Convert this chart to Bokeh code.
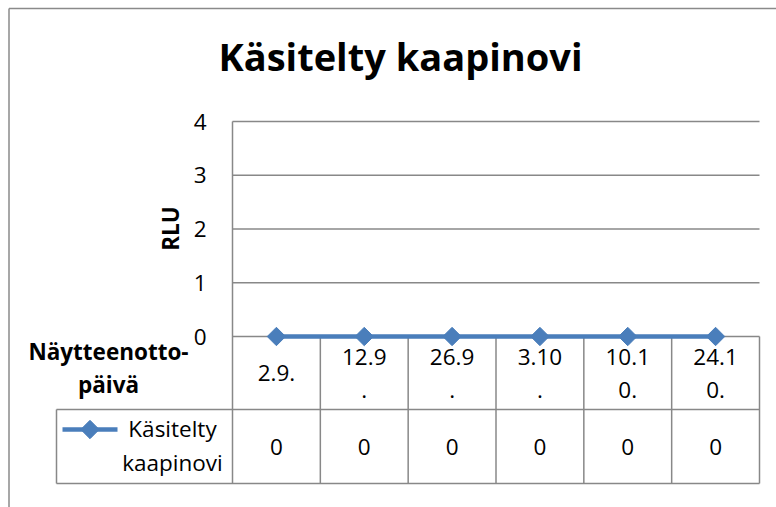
import math
from bokeh.plotting import figure
from bokeh.models import Range1d
from bokeh.core.properties import value
from bokeh.embed import file_html
from bokeh.resources import INLINE

# ---- data ----
chart_title = "Käsitelty kaapinovi"
series_name = ["Käsitelty", "kaapinovi"]
categories = ["2.9.", "12.9.", "26.9.", "3.10.", "10.10.", "24.10."]
values = [0, 0, 0, 0, 0, 0]
y_ticks = [0, 1, 2, 3, 4]
y_label = "RLU"
x_label = ["Näytteenotto-", "päivä"]

# ---- layout (page pixels) ----
W, H = 776, 507
OX, OY = 0, 0
PL, PR = 232, 759      # plot area left / right
PT, P0 = 121, 336      # top tick / zero line
ROW1, ROW2 = 409, 483  # table row bottoms
LEG_L = 56

n = len(categories)
cw = (PR - PL) / n
ymax = max(y_ticks)
ppu = (P0 - PT) / ymax

def X(px):
    return (px - PL) / cw

def Y(py):
    return (P0 - py) / ppu

FONT = value("Open Sans")
GRID = "#888888"
BLUE = "#4A7EBB"
FS = "22.5px"
LW = 1.5

p = figure(width=W, height=H, output_backend="svg", toolbar_location=None,
           x_range=Range1d(X(OX), X(OX + W)), y_range=Range1d(Y(OY + H), Y(OY)),
           x_axis_location=None, y_axis_location=None, min_border=0)
p.grid.visible = False
p.outline_line_color = None
p.background_fill_color = "white"
p.border_fill_color = "white"

# chart border (left and top)
p.segment(x0=[X(8.5), X(8.5)], y0=[Y(8), Y(8)], x1=[X(8.5), X(800)], y1=[Y(600), Y(8)],
          line_color="#8a8a8a", line_width=1.5)

# horizontal gridlines
p.segment(x0=[0] * len(y_ticks), x1=[n] * len(y_ticks), y0=y_ticks, y1=y_ticks,
          line_color=GRID, line_width=LW)
# plot-area left edge + table column lines
p.segment(x0=[0], x1=[0], y0=[ymax], y1=[Y(ROW2)], line_color=GRID, line_width=LW)
cols = list(range(1, n + 1))
p.segment(x0=cols, x1=cols, y0=[0] * n, y1=[Y(ROW2)] * n, line_color=GRID, line_width=LW)
# table rows
p.segment(x0=[X(LEG_L)] * 2, x1=[n] * 2, y0=[Y(ROW1), Y(ROW2)], y1=[Y(ROW1), Y(ROW2)],
          line_color=GRID, line_width=LW)
p.segment(x0=[X(LEG_L)], x1=[X(LEG_L)], y0=[Y(ROW1)], y1=[Y(ROW2)], line_color=GRID, line_width=LW)

# y tick labels
p.text(x=[X(206)] * len(y_ticks), y=y_ticks, text=[str(t) for t in y_ticks],
       text_font=FONT, text_font_size=FS, text_align="right", text_baseline="middle", text_color="black")

# y axis title
p.text(x=[X(170)], y=[Y(228)], text=[y_label], angle=math.pi / 2, text_font=FONT, text_font_size=FS,
       text_font_style="bold", text_align="center", text_baseline="middle", text_color="black")

# title
p.text(x=[X(400)], y=[Y(55)], text=[chart_title], text_font=FONT, text_font_size="38px",
       text_font_style="bold", text_align="center", text_baseline="middle", text_color="black")

# x axis title (table header)
LH = 33
p.text(x=[X(108)] * 2, y=[Y(351), Y(351 + LH)], text=x_label, text_font=FONT, text_font_size=FS,
       text_font_style="bold", text_align="center", text_baseline="middle", text_color="black")

# category labels (wrapped into cells)
mid1 = (P0 + ROW1) / 2
cx, cy, ct = [], [], []
for i, c in enumerate(categories):
    lines = [c] if len(c) <= 4 else [c[:4], c[4:]]
    k = len(lines)
    for j, ln in enumerate(lines):
        cx.append(i + 0.5)
        cy.append(Y(mid1 + (j - (k - 1) / 2) * LH))
        ct.append(ln)
p.text(x=cx, y=cy, text=ct, text_font=FONT, text_font_size=FS, text_align="center",
       text_baseline="middle", text_color="black")

# value row
mid2 = (ROW1 + ROW2) / 2
p.text(x=[i + 0.5 for i in range(n)], y=[Y(mid2)] * n, text=[str(v) for v in values],
       text_font=FONT, text_font_size=FS, text_align="center", text_baseline="middle", text_color="black")

# legend key in table
p.line(x=[X(62), X(117)], y=[Y(429)] * 2, line_color=BLUE, line_width=4.5)
p.scatter(x=[X(89.5)], y=[Y(429)], marker="square", angle=math.pi / 4, size=13,
          fill_color=BLUE, line_color=BLUE)
p.text(x=[X(172)] * 2, y=[Y(428), Y(428 + 34)], text=series_name, text_font=FONT, text_font_size=FS,
       text_align="center", text_baseline="middle", text_color="black")

# series
xs = [i + 0.5 for i in range(n)]
p.line(x=xs, y=values, line_color=BLUE, line_width=4.5)
p.scatter(x=xs, y=values, marker="square", angle=math.pi / 4, size=13, fill_color=BLUE, line_color=BLUE)

open("out.html", "w").write(file_html(p, INLINE))
